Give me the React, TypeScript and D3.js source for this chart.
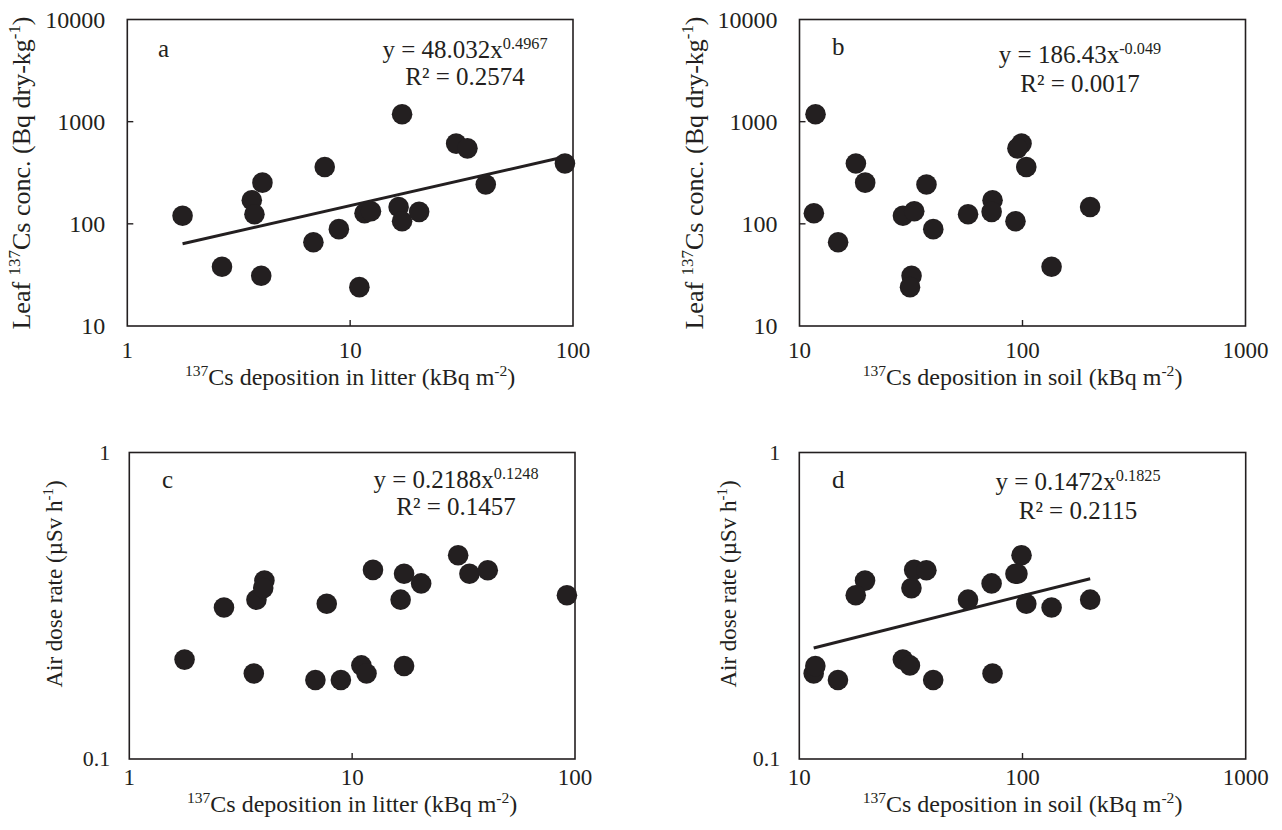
import React from "react";
import * as d3 from "d3";

// ---- data: one entry per sampling site ----
const litterDeposition = [1.77, 2.66, 3.62, 3.72, 4.04, 3.99, 6.84, 7.69, 8.9, 11.0, 11.6, 12.4, 16.5, 17.1, 17.1, 20.4, 29.9, 33.6, 40.6, 92];
const soilDeposition = [29.1, 135, 73.4, 57, 19.7, 31.8, 14.9, 104, 39.8, 31.3, 11.6, 32.7, 201, 11.8, 93, 72.7, 99, 94.9, 37.1, 17.9];
const leafConc = [120, 38, 170, 124, 253, 31, 66, 360, 88.7, 24, 127, 133, 146, 1180, 106, 131, 610, 548, 243, 389];
const airDoseRate = [0.211, 0.312, 0.19, 0.331, 0.382, 0.361, 0.181, 0.321, 0.181, 0.202, 0.19, 0.414, 0.331, 0.201, 0.402, 0.374, 0.462, 0.402, 0.413, 0.342];

const litterTicks = [1, 10, 100];
const soilTicks = [10, 100, 1000];
const leafTicks = [10, 100, 1000, 10000];
const airTicks = [0.1, 1];

// power-law fits: [coefficient, exponent, R²]
const fitA = ["48.032", "0.4967", "0.2574"];
const fitB = ["186.43", "-0.049", "0.0017"];
const fitC = ["0.2188", "0.1248", "0.1457"];
const fitD = ["0.1472", "0.1825", "0.2115"];

const FONT = "'Liberation Serif', 'Times New Roman', serif";
const INK = "#231f20";

type Frame = { left: number; right: number; top: number; bottom: number };

function Sup({ base, sup, size, after }: { base: string; sup: string; size: number; after?: string }) {
  const s = size * 0.65;
  const shift = size * 0.38;
  return (
    <>
      {base}
      <tspan fontSize={s} dy={-shift}>{sup}</tspan>
      <tspan dy={shift}>{after ?? ""}</tspan>
    </>
  );
}

function Panel(props: {
  frame: Frame;
  xDomain: [number, number];
  yDomain: [number, number];
  xTicks: number[];
  yTicks: number[];
  xs: number[];
  ys: number[];
  letter: string;
  letterPos: [number, number];
  fit: string[];
  eqPos: [number, number, number];
  drawTrend: boolean;
  xTitle: React.ReactNode;
  yTitle: React.ReactNode;
  yTitlePos: [number, number];
  yTitleSize: number;
  tickSize: number;
  yTickSize: number;
  xLabelGap: number;
  xTitleGap: number;
  yLabelGap: number;
}) {
  const { frame } = props;
  const x = d3.scaleLog().domain(props.xDomain).range([frame.left, frame.right]);
  const y = d3.scaleLog().domain(props.yDomain).range([frame.bottom, frame.top]);
  const tickLen = 6;
  const fmt = (v: number) => String(v);
  const coef = parseFloat(props.fit[0]);
  const expo = parseFloat(props.fit[1]);
  const ext = d3.extent(props.xs) as [number, number];
  const line = d3
    .line<number>()
    .x((v) => x(v))
    .y((v) => y(coef * Math.pow(v, expo)));
  const eqSize = 25;
  return (
    <g fontFamily={FONT} fill={INK}>
      {/* trend */}
      {props.drawTrend && (
        <path d={line(ext) || ""} stroke={INK} strokeWidth={3} fill="none" />
      )}
      {/* points */}
      {props.xs.map((v, i) => (
        <circle key={i} cx={x(v)} cy={y(props.ys[i])} r={10.3} fill={INK} />
      ))}
      {/* frame */}
      <rect
        x={frame.left}
        y={frame.top}
        width={frame.right - frame.left}
        height={frame.bottom - frame.top}
        fill="none"
        stroke={INK}
        strokeWidth={1.6}
      />
      {/* inward ticks */}
      {props.xTicks.slice(1, -1).map((t) => (
        <line key={"xt" + t} x1={x(t)} x2={x(t)} y1={frame.bottom} y2={frame.bottom - tickLen} stroke={INK} strokeWidth={1.4} />
      ))}
      {props.yTicks.slice(1, -1).map((t) => (
        <line key={"yt" + t} x1={frame.left} x2={frame.left + tickLen} y1={y(t)} y2={y(t)} stroke={INK} strokeWidth={1.4} />
      ))}
      {/* tick labels */}
      {props.xTicks.map((t) => (
        <text key={"xl" + t} x={x(t)} y={frame.bottom + props.xLabelGap} textAnchor="middle" fontSize={props.tickSize}>
          {fmt(t)}
        </text>
      ))}
      {props.yTicks.map((t) => (
        <text key={"yl" + t} x={frame.left - props.yLabelGap} y={y(t) + props.yTickSize * 0.34} textAnchor="end" fontSize={props.yTickSize}>
          {fmt(t)}
        </text>
      ))}
      {/* axis titles */}
      <text x={(frame.left + frame.right) / 2} y={frame.bottom + props.xTitleGap} textAnchor="middle" fontSize={24}>
        {props.xTitle}
      </text>
      <text
        transform={`translate(${props.yTitlePos[0]},${props.yTitlePos[1]}) rotate(-90)`}
        textAnchor="middle"
        fontSize={props.yTitleSize}
      >
        {props.yTitle}
      </text>
      {/* panel letter */}
      <text x={props.letterPos[0]} y={props.letterPos[1]} fontSize={25}>
        {props.letter}
      </text>
      {/* equation */}
      <text x={props.eqPos[0]} y={props.eqPos[1]} textAnchor="middle" fontSize={eqSize}>
        <Sup base={`y = ${props.fit[0]}x`} sup={props.fit[1]} size={eqSize} />
      </text>
      <text x={props.eqPos[0]} y={props.eqPos[2]} textAnchor="middle" fontSize={eqSize}>
        {`R\u00B2 = ${props.fit[2]}`}
      </text>
    </g>
  );
}

const litterTitle = (
  <>
    <tspan fontSize={24 * 0.65} dy={-9}>137</tspan>
    <tspan dy={9}>Cs deposition in litter (kBq m</tspan>
    <tspan fontSize={24 * 0.65} dy={-9}>-2</tspan>
    <tspan dy={9}>)</tspan>
  </>
);
const soilTitle = (
  <>
    <tspan fontSize={24 * 0.65} dy={-9}>137</tspan>
    <tspan dy={9}>Cs deposition in soil (kBq m</tspan>
    <tspan fontSize={24 * 0.65} dy={-9}>-2</tspan>
    <tspan dy={9}>)</tspan>
  </>
);
const LS = 26;
const leafTitle = (
  <>
    <tspan>Leaf </tspan>
    <tspan fontSize={LS * 0.65} dy={-LS * 0.38}>137</tspan>
    <tspan dy={LS * 0.38}>Cs conc. (Bq dry-kg</tspan>
    <tspan fontSize={LS * 0.65} dy={-LS * 0.38}>-1</tspan>
    <tspan dy={LS * 0.38}>)</tspan>
  </>
);
const AS = 23;
const airTitle = (
  <>
    <tspan>Air dose rate (µSv h</tspan>
    <tspan fontSize={AS * 0.65} dy={-AS * 0.38}>-1</tspan>
    <tspan dy={AS * 0.38}>)</tspan>
  </>
);

export default function App() {
  return (
    <svg
      width={1282}
      height={830}
      style={{ position: "absolute", left: 0, top: 0, background: "#fff" }}
    >
      <rect width={1282} height={830} fill="#fff" />
      <Panel
        frame={{ left: 127.3, right: 573, top: 19.5, bottom: 326 }}
        xDomain={[1, 100]}
        yDomain={[10, 10000]}
        xTicks={litterTicks}
        yTicks={leafTicks}
        xs={litterDeposition}
        ys={leafConc}
        letter="a"
        letterPos={[158, 57]}
        fit={fitA}
        eqPos={[465, 58, 85]}
        drawTrend={true}
        xTitle={litterTitle}
        yTitle={leafTitle}
        yTitlePos={[30, 173]}
        yTitleSize={LS}
        tickSize={23}
        yTickSize={24}
        xLabelGap={32}
        xTitleGap={59}
        yLabelGap={22}
      />
      <Panel
        frame={{ left: 799.5, right: 1245.5, top: 19.5, bottom: 326 }}
        xDomain={[10, 1000]}
        yDomain={[10, 10000]}
        xTicks={soilTicks}
        yTicks={leafTicks}
        xs={soilDeposition}
        ys={leafConc}
        letter="b"
        letterPos={[832, 55]}
        fit={fitB}
        eqPos={[1080, 63, 92]}
        drawTrend={false}
        xTitle={soilTitle}
        yTitle={leafTitle}
        yTitlePos={[703, 173]}
        yTitleSize={LS}
        tickSize={23}
        yTickSize={24}
        xLabelGap={32}
        xTitleGap={59}
        yLabelGap={22}
      />
      <Panel
        frame={{ left: 129.3, right: 575, top: 452.5, bottom: 759 }}
        xDomain={[1, 100]}
        yDomain={[0.1, 1]}
        xTicks={litterTicks}
        yTicks={airTicks}
        xs={litterDeposition}
        ys={airDoseRate}
        letter="c"
        letterPos={[162, 488]}
        fit={fitC}
        eqPos={[456, 488, 515]}
        drawTrend={false}
        xTitle={litterTitle}
        yTitle={airTitle}
        yTitlePos={[62, 584]}
        yTitleSize={AS}
        tickSize={23}
        yTickSize={22}
        xLabelGap={26}
        xTitleGap={53}
        yLabelGap={19}
      />
      <Panel
        frame={{ left: 799.3, right: 1245.7, top: 452.5, bottom: 759 }}
        xDomain={[10, 1000]}
        yDomain={[0.1, 1]}
        xTicks={soilTicks}
        yTicks={airTicks}
        xs={soilDeposition}
        ys={airDoseRate}
        letter="d"
        letterPos={[832, 488]}
        fit={fitD}
        eqPos={[1078, 490, 519]}
        drawTrend={true}
        xTitle={soilTitle}
        yTitle={airTitle}
        yTitlePos={[736, 584]}
        yTitleSize={AS}
        tickSize={23}
        yTickSize={22}
        xLabelGap={26}
        xTitleGap={53}
        yLabelGap={19}
      />
    </svg>
  );
}
